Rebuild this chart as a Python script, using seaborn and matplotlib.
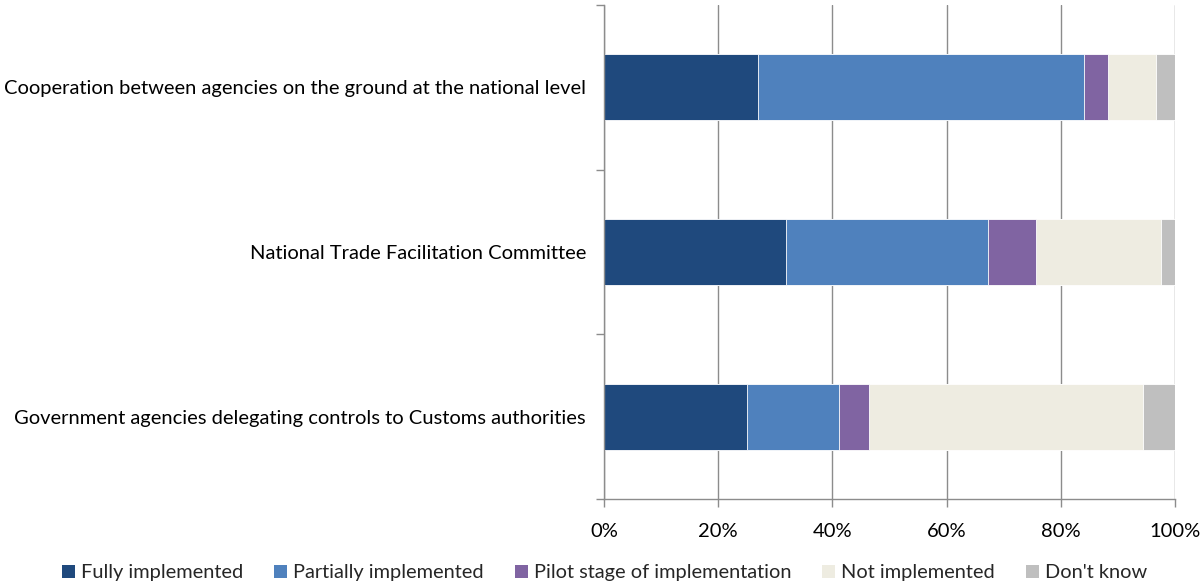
import matplotlib
matplotlib.use("Agg")
import matplotlib.pyplot as plt
from matplotlib.patches import Patch
from matplotlib.ticker import FixedLocator
import numpy as np
import pandas as pd
import seaborn as sns

categories = [
    "Cooperation between agencies on the ground at the national level",
    "National Trade Facilitation Committee",
    "Government agencies delegating controls to Customs authorities",
]
series_names = [
    "Fully implemented",
    "Partially implemented",
    "Pilot stage of implementation",
    "Not implemented",
    "Don't know",
]
fully = [26.9, 31.8, 25.1]
partially = [57.2, 35.5, 16.1]
pilot = [4.1, 8.3, 5.2]
not_impl = [8.4, 21.9, 48.0]
dont_know = [3.4, 2.5, 5.6]
tick_labels = ["0%", "20%", "40%", "60%", "80%", "100%"]

colors = ["#1F497D", "#4F81BD", "#8064A2", "#EEECE1", "#BFBFBF"]

sns.set_style("white")
plt.rcParams["font.family"] = ["Lato", "DejaVu Sans"]
plt.rcParams["font.size"] = 14.5

values = np.array([fully, partially, pilot, not_impl, dont_know])
cumulative = np.cumsum(values, axis=0)

fig = plt.figure(figsize=(12, 5.83), dpi=100)
ax = fig.add_axes([0.5033, 0.144, 0.4758, 0.8474])

# Stacked bars: draw running totals from the largest down so each segment shows
for i in range(len(series_names) - 1, -1, -1):
    df = pd.DataFrame({"category": categories, "value": cumulative[i]})
    sns.barplot(data=df, x="value", y="category", orient="h", color=colors[i],
                width=0.4, saturation=1, ax=ax, edgecolor="white", linewidth=0.6,
                zorder=2)

ax.set_xlim(0, 100)
ax.set_ylim(2.5, -0.5)
ax.set_xlabel("")
ax.set_ylabel("")
ax.xaxis.set_major_locator(FixedLocator([0, 20, 40, 60, 80, 100]))
ax.set_xticklabels(tick_labels)
ax.grid(axis="x", color="#8C8C8C", linewidth=1.0, zorder=0)
ax.grid(axis="y", visible=False)

for s in ["top", "right"]:
    ax.spines[s].set_visible(False)
for s in ["left", "bottom"]:
    ax.spines[s].set_color("#8C8C8C")
    ax.spines[s].set_linewidth(1.0)

ax.tick_params(axis="x", which="major", bottom=True, direction="out", length=6,
               width=1.0, color="#8C8C8C", labelsize=14.5, pad=11, labelcolor="#000000")
ax.tick_params(axis="y", which="major", left=False, length=0, pad=13, labelsize=14.5,
               labelcolor="#000000")
ax.yaxis.set_minor_locator(FixedLocator([-0.5, 0.5, 1.5, 2.5]))
ax.tick_params(axis="y", which="minor", left=True, direction="out", length=6,
               width=1.0, color="#8C8C8C")

handles = [Patch(facecolor=c, edgecolor="none", label=n) for c, n in zip(colors, series_names)]
fig.legend(handles=handles, loc="lower center", bbox_to_anchor=(0.504, -0.028), ncol=5,
           frameon=False, handlelength=0.65, handleheight=0.65, handletextpad=0.3,
           columnspacing=1.55, fontsize=14.4)

fig.savefig("out.png", dpi=100)
